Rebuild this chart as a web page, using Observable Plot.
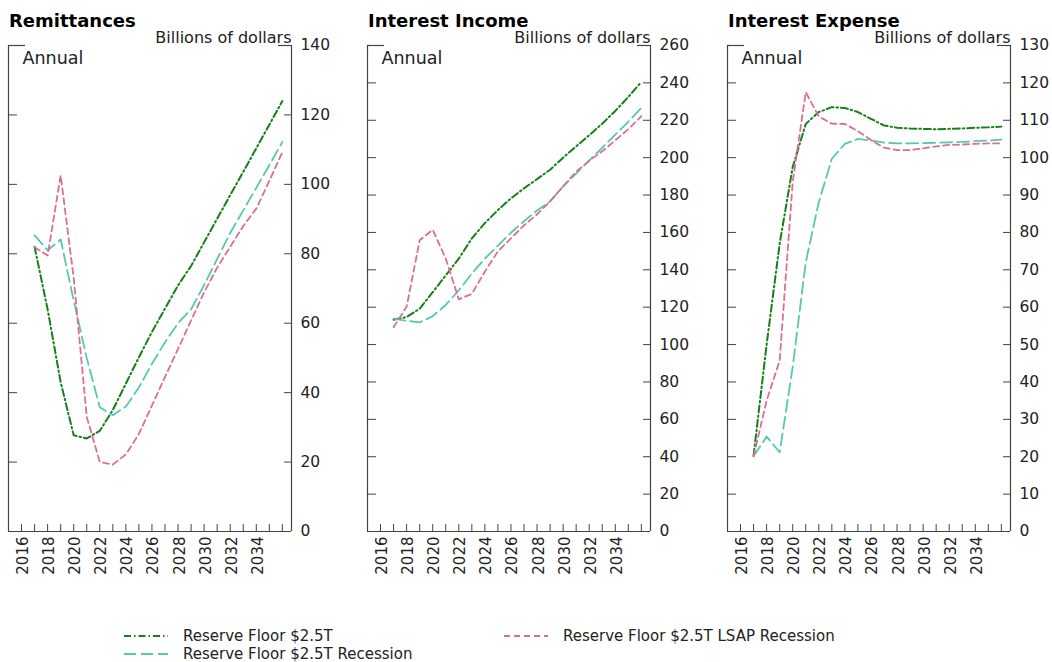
<!DOCTYPE html>
<html>
<head>
<meta charset="utf-8">
<script src="https://cdn.jsdelivr.net/npm/d3@7"></script>
<script src="https://cdn.jsdelivr.net/npm/@observablehq/plot@0.6"></script>
<style>
  body { margin: 0; background: #fff; font-family: "DejaVu Sans", sans-serif; }
  #chart { position: relative; width: 1052px; height: 662px; overflow: hidden; background: #fff; }
  .panel { position: absolute; top: 0; width: 360px; height: 590px; }
  .panel svg { max-width: none !important; }
  .title { position: absolute; top: 12px; font-size: 18px; line-height: 18px; font-weight: bold; color: #000; white-space: nowrap; }
  .legend-item { position: absolute; display: flex; align-items: center; font-size: 15px; line-height: 18px; color: #222; white-space: nowrap; }
  .legend-item svg { margin-right: 14px; }
</style>
</head>
<body>
<div id="chart"></div>
<script>
// Annual projections, 2016 through 2035 (billions of dollars)
const years = d3.range(2016, 2036);
const labelYears = d3.range(2016, 2035, 2);

const seriesNames = [
  "Reserve Floor $2.5T",
  "Reserve Floor $2.5T Recession",
  "Reserve Floor $2.5T LSAP Recession"
];

// Remittances
const remitBase      = [82, 64, 43, 27.7, 26.8, 29, 35, 42.6, 50.2, 57.5, 64.2, 70.9, 76.5, 83.3, 90.1, 96.9, 103.6, 110.4, 117.2, 124];
const remitRecession = [85.3, 81, 84.1, 66.5, 50, 35.8, 33.5, 36, 41.5, 48.3, 54.5, 60, 64, 71, 78.5, 86, 92.5, 99, 105.5, 112.2];
const remitLSAP      = [81.9, 79.5, 102.6, 73, 33, 20, 19.3, 22.2, 28.1, 36.3, 44.5, 52.6, 60.8, 68.9, 76, 82, 88, 93, 101, 109.3];

// Interest income
const incomeBase      = [113.3, 114.7, 119.2, 128, 137, 146, 156.8, 165, 172, 178.2, 183.6, 188.5, 193.5, 200, 206, 212, 218.2, 225, 232.5, 240.5];
const incomeRecession = [113.9, 112.7, 111.9, 115.2, 121.2, 129, 138, 146, 152.9, 159.8, 166, 171.7, 176.6, 184.6, 191.5, 198.4, 205.3, 212.3, 219.2, 226.7];
const incomeLSAP      = [109.3, 120.2, 155.8, 161.4, 146, 124.2, 127.1, 139, 149.9, 156.8, 163.8, 169.7, 176.6, 184.6, 192.5, 198.4, 203.4, 209.3, 215.2, 222.2];

// Interest expense
const expenseBase      = [20.3, 50, 77, 97.5, 109, 112.2, 113.5, 113.3, 112.2, 110.4, 108.6, 108, 107.8, 107.7, 107.6, 107.7, 107.8, 108, 108.1, 108.3];
const expenseRecession = [20.1, 25.4, 21.2, 44, 72, 88.1, 99.7, 103.7, 105, 104.6, 104, 103.8, 103.8, 103.9, 104, 104.1, 104.2, 104.4, 104.6, 104.8];
const expenseLSAP      = [20.1, 35, 45.7, 93.5, 117.5, 111, 109.1, 109, 107.1, 104.7, 102.7, 102, 102, 102.5, 103, 103.4, 103.5, 103.7, 103.8, 103.8];

// Line styles for the three scenarios
const styles = [
  {stroke: "#15801a", dash: "7,3,1.5,3", width: 2},
  {stroke: "#55c9a9", dash: "12,5", width: 1.8},
  {stroke: "#dd6d92", dash: "6,4", width: 1.8}
];

const W = 360, H = 590;
const M = {top: 45, right: 69, bottom: 59, left: 8};
const plotW = W - M.left - M.right;
const plotH = H - M.top - M.bottom;
const frameColor = "#444";

function panel(seriesValues, yMax, yStep) {
  const yTicks = d3.range(0, yMax + yStep / 2, yStep);
  const lines = seriesValues.map((vals, k) =>
    Plot.line(years.map((yr, i) => ({year: yr, value: vals[i]})), {
      // each annual value sits on the year-end boundary
      x: d => d.year + 1,
      y: "value",
      stroke: styles[k].stroke,
      strokeWidth: styles[k].width,
      strokeDasharray: styles[k].dash,
      curve: "linear"
    })
  );
  return Plot.plot({
    width: W, height: H,
    marginTop: M.top, marginRight: M.right, marginBottom: M.bottom, marginLeft: M.left,
    style: {fontFamily: "DejaVu Sans, sans-serif", fontSize: "15px", color: "#222", background: "transparent", overflow: "visible"},
    x: {domain: [2015, 2036.7], axis: null},
    y: {domain: [0, yMax], axis: null},
    marks: [
      // left, right and bottom edges of the box
      Plot.ruleX([2015, 2036.7], {stroke: frameColor, strokeWidth: 1.2}),
      Plot.ruleY([0], {stroke: frameColor, strokeWidth: 1.2}),
      // short top corners
      Plot.tickY([yMax], {stroke: frameColor, strokeWidth: 1.2, insetRight: plotW - 17}),
      Plot.tickY([yMax], {stroke: frameColor, strokeWidth: 1.2, insetLeft: plotW - 13}),
      // inward value ticks on both sides
      Plot.tickY(yTicks, {stroke: frameColor, insetRight: plotW - 9}),
      Plot.tickY(yTicks, {stroke: frameColor, insetLeft: plotW - 7}),
      // inward year ticks
      Plot.tickX(d3.range(2016, 2037), {stroke: frameColor, insetTop: plotH - 7}),
      // year labels centred in their year
      Plot.text(labelYears, {
        x: d => d + 0.5, text: d => String(d), frameAnchor: "bottom",
        rotate: -90, textAnchor: "end", dy: 5, fontSize: 15, fill: "#222"
      }),
      // value labels on the right
      Plot.text(yTicks, {
        y: d => d, text: d => String(d), frameAnchor: "right",
        textAnchor: "start", dx: 9, fontSize: 15.5, fill: "#222"
      }),
      Plot.text(["Billions of dollars"], {
        frameAnchor: "top-right", textAnchor: "end", lineAnchor: "bottom", dy: -3, fontSize: 16, fill: "#222"
      }),
      Plot.text(["Annual"], {
        frameAnchor: "top-left", textAnchor: "start", lineAnchor: "top", dx: 14, dy: 6, fontSize: 17.5, fill: "#222"
      }),
      ...lines
    ]
  });
}

const chart = document.getElementById("chart");
const panels = [
  {title: "Remittances", series: [remitBase, remitRecession, remitLSAP], yMax: 140, yStep: 20, left: 0},
  {title: "Interest Income", series: [incomeBase, incomeRecession, incomeLSAP], yMax: 260, yStep: 20, left: 359},
  {title: "Interest Expense", series: [expenseBase, expenseRecession, expenseLSAP], yMax: 130, yStep: 10, left: 719}
];

panels.forEach(p => {
  const svg = panel(p.series, p.yMax, p.yStep);
  svg.style.maxWidth = "none";
  const wrap = document.createElement("div");
  wrap.className = "panel";
  wrap.style.left = p.left + "px";
  wrap.appendChild(svg);
  chart.appendChild(wrap);
  const t = document.createElement("div");
  t.className = "title";
  t.style.left = (p.left + 9) + "px";
  t.textContent = p.title;
  chart.appendChild(t);
});

// Legend
const legendPos = [
  {left: 123, top: 627},
  {left: 123, top: 645},
  {left: 503, top: 627}
];
seriesNames.forEach((name, k) => {
  const item = document.createElement("div");
  item.className = "legend-item";
  item.style.left = legendPos[k].left + "px";
  item.style.top = legendPos[k].top + "px";
  item.style.height = "18px";
  const sw = d3.create("svg").attr("width", 46).attr("height", 10);
  sw.append("line").attr("x1", 1).attr("x2", 45).attr("y1", 5).attr("y2", 5)
    .attr("stroke", styles[k].stroke).attr("stroke-width", styles[k].width)
    .attr("stroke-dasharray", styles[k].dash);
  item.appendChild(sw.node());
  const span = document.createElement("span");
  span.textContent = name;
  item.appendChild(span);
  chart.appendChild(item);
});
</script>
</body>
</html>
